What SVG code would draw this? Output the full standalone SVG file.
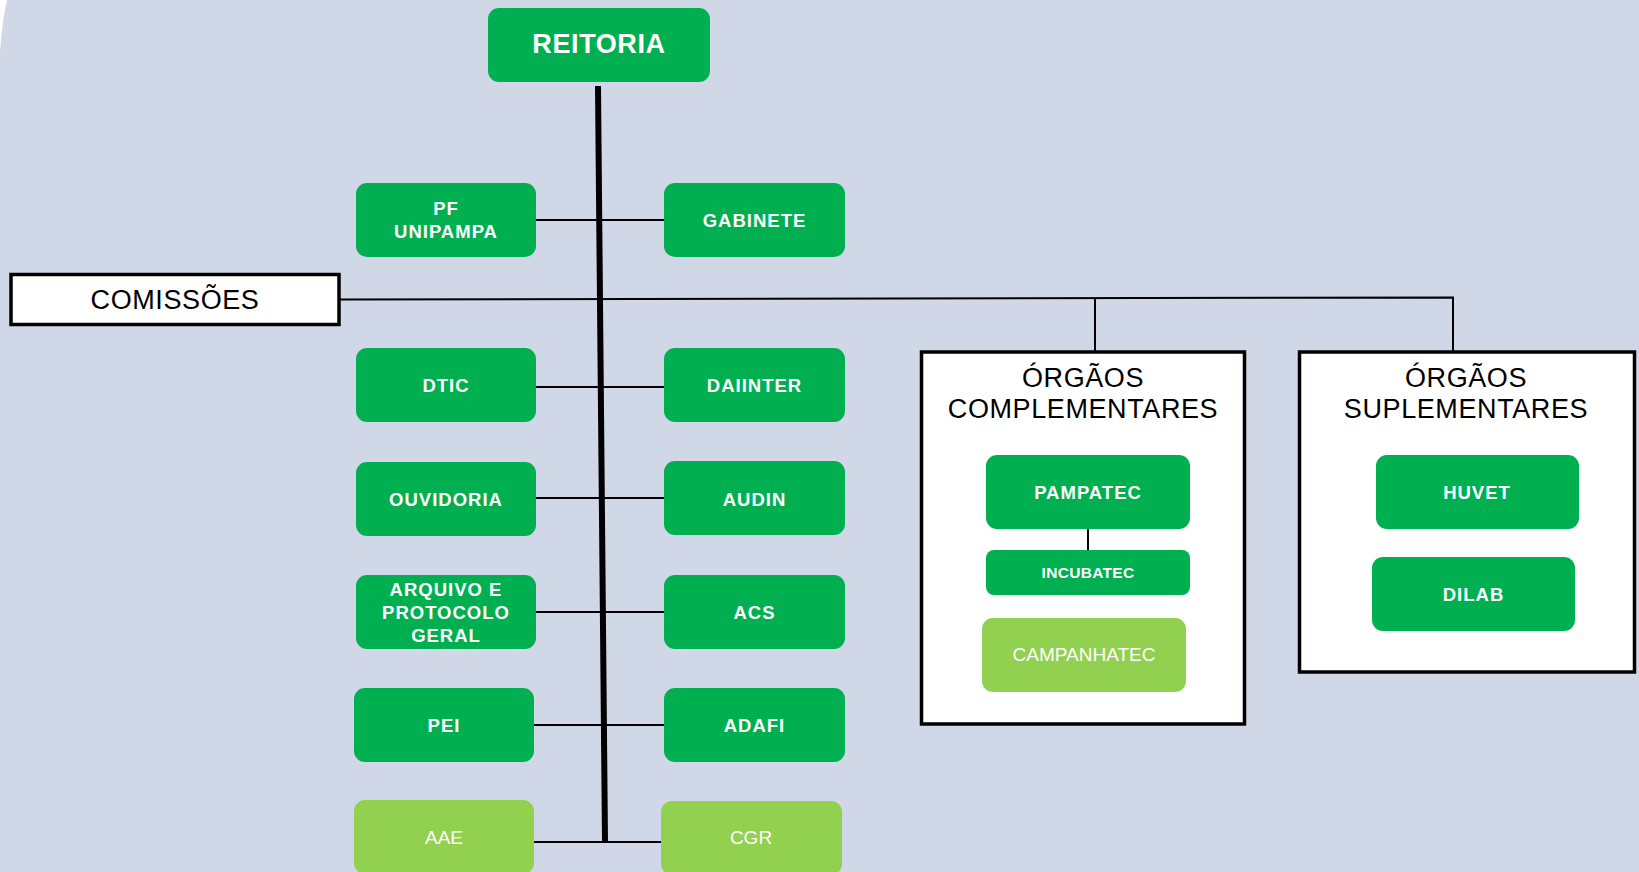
<svg xmlns="http://www.w3.org/2000/svg" width="1639" height="872" viewBox="0 0 1639 872">
<style>
.bg{fill:#D0D8E8}
.dk{fill:#00AF50}
.lt{fill:#92D050}
.frame{fill:#FFFFFF;stroke:#000000;stroke-width:3.5}
.tb{font-family:"Liberation Sans",Arial,sans-serif;font-weight:bold;fill:#FFFFFF;text-anchor:middle;font-size:18.5px;letter-spacing:1px}
.tr{font-family:"Liberation Sans",Arial,sans-serif;fill:#FFFFFF;text-anchor:middle;font-size:19px}
.tk{font-family:"Liberation Sans",Arial,sans-serif;fill:#000000;text-anchor:middle;font-size:27px;letter-spacing:0.6px}
.ln{stroke:#000000;stroke-width:2;fill:none}
.ln1{stroke:#000000;stroke-width:2;fill:none}
</style>
<rect class="bg" x="0" y="0" width="1639" height="872"/>
<path d="M0,0 L7,0 Q2,22 0,52 Z" fill="#FFFFFF"/>

<g id="orgaos-complementares">
<rect class="frame" x="921.5" y="352" width="323" height="372"/>
<text class="tk" x="1083" y="386.5">ÓRGÃOS</text>
<text class="tk" x="1083" y="418">COMPLEMENTARES</text>
</g>
<g id="orgaos-suplementares">
<rect class="frame" x="1299.5" y="352" width="335" height="320"/>
<text class="tk" x="1466" y="386.5">ÓRGÃOS</text>
<text class="tk" x="1466" y="418">SUPLEMENTARES</text>
</g>

<g id="connectors">
<line x1="598" y1="86" x2="605" y2="842" stroke="#000000" stroke-width="6"/>
<line class="ln" x1="536" y1="220" x2="664" y2="220"/>
<line class="ln" x1="536" y1="387" x2="664" y2="387"/>
<line class="ln" x1="536" y1="498" x2="664" y2="498"/>
<line class="ln" x1="536" y1="612" x2="664" y2="612"/>
<line class="ln" x1="534" y1="725" x2="664" y2="725"/>
<line class="ln" x1="534" y1="842" x2="661" y2="842"/>
<polyline class="ln" points="340,299.5 1453,297.5 1453,351"/>
<line class="ln1" x1="1095" y1="298.5" x2="1095" y2="351"/>
<line class="ln1" x1="1088" y1="528" x2="1088" y2="551"/>
</g>

<g id="reitoria">
<rect class="dk" x="488" y="8" width="222" height="74" rx="11"/>
<text class="tb" x="599" y="52.5" style="font-size:27px;letter-spacing:0.6px">REITORIA</text>
</g>

<g id="pf-unipampa">
<rect class="dk" x="356" y="183" width="180" height="74" rx="11"/>
<text class="tb" x="446" y="215">PF</text>
<text class="tb" x="446" y="238">UNIPAMPA</text>
</g>
<g id="gabinete">
<rect class="dk" x="664" y="183" width="181" height="74" rx="11"/>
<text class="tb" x="754.5" y="226.5">GABINETE</text>
</g>

<g id="comissoes">
<rect class="frame" x="11" y="274.5" width="328" height="50"/>
<text class="tk" x="175" y="309">COMISSÕES</text>
</g>

<g id="dtic">
<rect class="dk" x="356" y="348" width="180" height="74" rx="11"/>
<text class="tb" x="446" y="392">DTIC</text>
</g>
<g id="daiinter">
<rect class="dk" x="664" y="348" width="181" height="74" rx="11"/>
<text class="tb" x="754.5" y="392">DAIINTER</text>
</g>

<g id="ouvidoria">
<rect class="dk" x="356" y="462" width="180" height="74" rx="11"/>
<text class="tb" x="446" y="505.5">OUVIDORIA</text>
</g>
<g id="audin">
<rect class="dk" x="664" y="461" width="181" height="74" rx="11"/>
<text class="tb" x="754.5" y="505.5">AUDIN</text>
</g>

<g id="arquivo">
<rect class="dk" x="356" y="575" width="180" height="74" rx="11"/>
<text class="tb" x="446" y="596">ARQUIVO E</text>
<text class="tb" x="446" y="619">PROTOCOLO</text>
<text class="tb" x="446" y="641.5">GERAL</text>
</g>
<g id="acs">
<rect class="dk" x="664" y="575" width="181" height="74" rx="11"/>
<text class="tb" x="754.5" y="619">ACS</text>
</g>

<g id="pei">
<rect class="dk" x="354" y="688" width="180" height="74" rx="11"/>
<text class="tb" x="444" y="732">PEI</text>
</g>
<g id="adafi">
<rect class="dk" x="664" y="688" width="181" height="74" rx="11"/>
<text class="tb" x="754.5" y="732">ADAFI</text>
</g>

<g id="aae">
<rect class="lt" x="354" y="800" width="180" height="74" rx="11"/>
<text class="tr" x="444" y="844">AAE</text>
</g>
<g id="cgr">
<rect class="lt" x="661" y="801" width="181" height="74" rx="11"/>
<text class="tr" x="751" y="844">CGR</text>
</g>

<g id="pampatec">
<rect class="dk" x="986" y="455" width="204" height="74" rx="11"/>
<text class="tb" x="1088" y="499">PAMPATEC</text>
</g>
<g id="incubatec">
<rect class="dk" x="986" y="550" width="204" height="45" rx="8"/>
<text class="tb" x="1088" y="578" style="font-size:15.5px;letter-spacing:0.3px">INCUBATEC</text>
</g>
<g id="campanhatec">
<rect class="lt" x="982" y="618" width="204" height="74" rx="11"/>
<text class="tr" x="1084" y="661">CAMPANHATEC</text>
</g>

<g id="huvet">
<rect class="dk" x="1376" y="455" width="203" height="74" rx="11"/>
<text class="tb" x="1477" y="499">HUVET</text>
</g>
<g id="dilab">
<rect class="dk" x="1372" y="557" width="203" height="74" rx="11"/>
<text class="tb" x="1473.5" y="601">DILAB</text>
</g>
</svg>
